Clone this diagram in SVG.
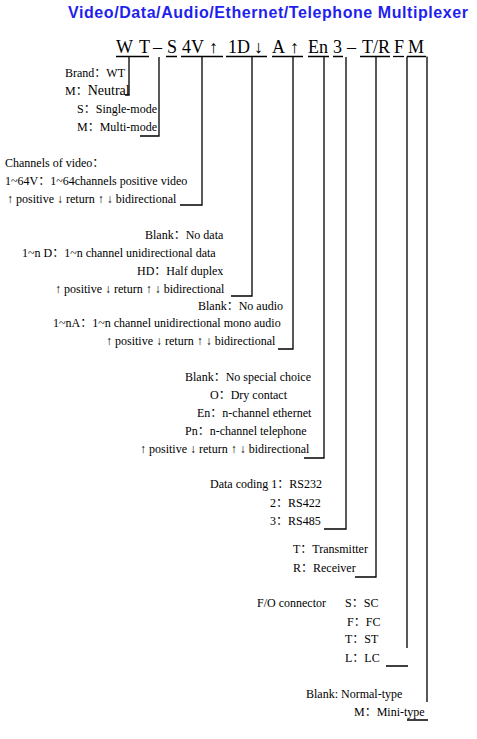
<svg xmlns="http://www.w3.org/2000/svg" width="477" height="739" viewBox="0 0 477 739">
<style>
.t{font-family:"Liberation Serif","Times New Roman",serif;font-size:12px;fill:#000}
.k{font-family:"Noto Sans CJK SC","Noto Sans CJK JP",sans-serif;font-size:12px}
.c{font-family:"Liberation Serif","Times New Roman",serif;font-size:18px;fill:#000}
.ttl{font-family:"Liberation Sans",Arial,sans-serif;font-size:16px;font-weight:bold;fill:#1f1fee}
.ln{stroke:#000;stroke-width:1.3;fill:none}
</style>
<rect width="477" height="739" fill="#fff"/>
<g id="title"><text class="ttl" x="68" y="18" textLength="400" lengthAdjust="spacing">Video/Data/Audio/Ethernet/Telephone Multiplexer</text></g>
<g id="code">
<text class="c" x="116" y="53">W</text>
<text class="c" x="139" y="53">T</text>
<text class="c" x="153" y="53">–</text>
<text class="c" x="167" y="53">S</text>
<text class="c" x="182" y="53">4V</text>
<text class="c" x="209" y="53">↑</text>
<text class="c" x="228" y="53">1D</text>
<text class="c" x="254" y="53">↓</text>
<text class="c" x="272" y="53">A</text>
<text class="c" x="290" y="53">↑</text>
<text class="c" x="308" y="53">En</text>
<text class="c" x="333" y="53">3</text>
<text class="c" x="347" y="53">–</text>
<text class="c" x="362" y="53">T/R</text>
<text class="c" x="394" y="53">F</text>
<text class="c" x="408" y="53">M</text>
</g>
<g id="brand"><text class="t" x="65" y="77">Brand<tspan class="k">：</tspan>WT</text><text class="t" x="65" y="95">M<tspan class="k">：</tspan><tspan font-size="14">Neutral</tspan></text></g>
<g id="mode"><text class="t" x="77" y="113">S<tspan class="k">：</tspan>Single-mode</text><text class="t" x="77" y="131">M<tspan class="k">：</tspan>Multi-mode</text></g>
<g id="video">
<text class="t" x="5" y="167">Channels of video<tspan class="k">：</tspan></text>
<text class="t" x="5" y="185">1~64V<tspan class="k">：</tspan>1~64channels positive video</text>
<text class="t" x="7" y="203">↑ positive ↓ return ↑  ↓ bidirectional</text>
</g>
<g id="data">
<text class="t" x="145" y="239">Blank<tspan class="k">：</tspan>No data</text>
<text class="t" x="22" y="257">1~n D<tspan class="k">：</tspan>1~n channel unidirectional data</text>
<text class="t" x="137" y="275">HD<tspan class="k">：</tspan>Half duplex</text>
<text class="t" x="55" y="293">↑ positive ↓ return ↑  ↓ bidirectional</text>
</g>
<g id="audio">
<text class="t" x="198" y="310">Blank<tspan class="k">：</tspan>No audio</text>
<text class="t" x="53" y="327">1~nA<tspan class="k">：</tspan>1~n channel unidirectional mono audio</text>
<text class="t" x="106" y="345">↑ positive ↓ return ↑  ↓ bidirectional</text>
</g>
<g id="special">
<text class="t" x="185" y="381">Blank<tspan class="k">：</tspan>No special choice</text>
<text class="t" x="210" y="399">O<tspan class="k">：</tspan>Dry contact</text>
<text class="t" x="197" y="417">En<tspan class="k">：</tspan>n-channel ethernet</text>
<text class="t" x="185" y="435">Pn<tspan class="k">：</tspan>n-channel telephone</text>
<text class="t" x="140" y="453">↑ positive ↓ return ↑  ↓ bidirectional</text>
</g>
<g id="coding">
<text class="t" x="210" y="488">Data coding 1<tspan class="k">：</tspan>RS232</text>
<text class="t" x="270" y="507">2<tspan class="k">：</tspan>RS422</text>
<text class="t" x="270" y="525">3<tspan class="k">：</tspan>RS485</text>
</g>
<g id="tr">
<text class="t" x="293" y="553">T<tspan class="k">：</tspan>Transmitter</text>
<text class="t" x="293" y="572">R<tspan class="k">：</tspan>Receiver</text>
</g>
<g id="connector">
<text class="t" x="257" y="607">F/O connector</text>
<text class="t" x="345" y="607">S<tspan class="k">：</tspan>SC</text>
<text class="t" x="347" y="626">F<tspan class="k">：</tspan>FC</text>
<text class="t" x="345" y="643">T<tspan class="k">：</tspan>ST</text>
<text class="t" x="345" y="662">L<tspan class="k">：</tspan>LC</text>
</g>
<g id="type">
<text class="t" x="306" y="698">Blank: Normal-type</text>
<text class="t" x="354" y="716">M<tspan class="k">：</tspan>Mini-type</text>
</g>
<g id="connectors" class="ln">
<path d="M116 56.5H149M129 56.5V95H125"/>
<path d="M166 56.5H177M159 57V136H140"/>
<path d="M181 56.5H223M202 56.5V205H180"/>
<path d="M226 56.5H267M252 56.5V296H231"/>
<path d="M272 56.5H303M293 56.5V349H278"/>
<path d="M308 56.5H329M324 56.5V458H304"/>
<path d="M333 56.5H343M346 57V529H324"/>
<path d="M360 56.5H390M376 56.5V577H355"/>
<path d="M393 56.5H404"/>
<path d="M407 56.5H426M407 56.5V648M386 666H408M427 56.5V702M407 720H428"/>
</g>
</svg>
